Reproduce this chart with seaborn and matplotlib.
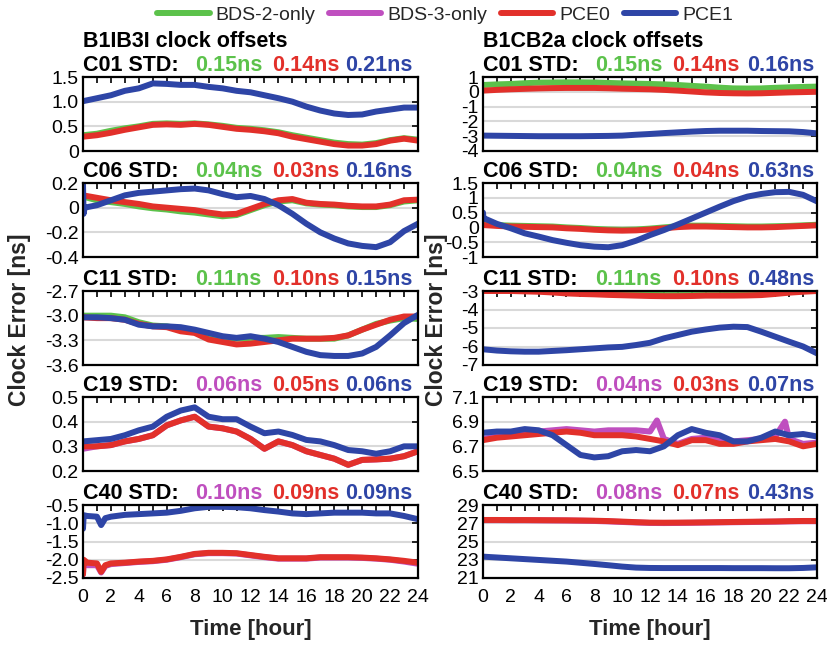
import matplotlib
matplotlib.use("Agg")
import matplotlib.pyplot as plt
import pandas as pd
import seaborn as sns
from matplotlib.lines import Line2D

# ---------------- data ----------------
hours = [0, 1, 2, 3, 4, 5, 6, 7, 8, 9, 10, 11, 12, 13, 14, 15, 16, 17, 18, 19, 20, 21, 22, 23, 24]
hours_spike = [0, 0.04, 0.12, 1, 2, 3, 4, 5, 6, 7, 8, 9, 10, 11, 12, 13, 14, 15, 16, 17, 18, 19, 20, 21, 22, 23, 24]
hours_c40 = [0, 0.05, 0.3, 1, 1.3, 1.6, 2, 3, 4, 5, 6, 7, 8, 9, 10, 11, 12, 13, 14, 15, 16, 17, 18, 19, 20, 21, 22, 23, 24]
hours_c19_b3 = [0, 1, 2, 3, 4, 5, 6, 7, 8, 9, 10, 11, 12, 12.5, 13, 14, 15, 16, 17, 18, 19, 20, 21, 21.7, 22, 23, 24]

series_names = ["BDS-2-only", "BDS-3-only", "PCE0", "PCE1"]
series_colors = ["#5CC24B", "#BF4FBF", "#E2302A", "#2E45A6"]

# B1IB3I (left column)
b1_c01_bds2 = [0.32, 0.35, 0.41, 0.46, 0.50, 0.55, 0.56, 0.55, 0.56, 0.54, 0.51, 0.47, 0.45, 0.42, 0.38, 0.32, 0.27, 0.22, 0.17, 0.14, 0.13, 0.16, 0.22, 0.26, 0.23]
b1_c01_pce0 = [0.29, 0.32, 0.37, 0.43, 0.48, 0.53, 0.54, 0.53, 0.55, 0.53, 0.49, 0.45, 0.43, 0.40, 0.36, 0.29, 0.24, 0.19, 0.14, 0.11, 0.11, 0.14, 0.21, 0.25, 0.21]
b1_c01_pce1 = [1.01, 1.07, 1.13, 1.22, 1.27, 1.37, 1.36, 1.34, 1.34, 1.30, 1.27, 1.22, 1.19, 1.13, 1.07, 1.00, 0.90, 0.82, 0.76, 0.73, 0.74, 0.80, 0.84, 0.88, 0.88]

b1_c06_bds2 = [0.09, 0.06, 0.045, 0.03, 0.01, -0.005, -0.015, -0.03, -0.04, -0.055, -0.07, -0.06, -0.02, 0.02, 0.05, 0.06, 0.035, 0.025, 0.02, 0.01, 0.005, 0.005, 0.02, 0.05, 0.06]
b1_c06_pce0 = [0.10, 0.08, 0.06, 0.045, 0.03, 0.01, 0.0, -0.01, -0.02, -0.04, -0.055, -0.05, -0.01, 0.03, 0.06, 0.07, 0.04, 0.03, 0.025, 0.015, 0.01, 0.01, 0.025, 0.06, 0.065]
b1_c06_pce1 = [0.19, -0.05, 0.0, 0.02, 0.06, 0.10, 0.12, 0.13, 0.14, 0.15, 0.155, 0.14, 0.11, 0.085, 0.095, 0.07, 0.02, -0.05, -0.13, -0.20, -0.25, -0.29, -0.31, -0.32, -0.28, -0.19, -0.13]

b1_c11_bds2 = [-3.00, -3.00, -3.00, -3.02, -3.08, -3.12, -3.13, -3.16, -3.20, -3.25, -3.27, -3.28, -3.27, -3.27, -3.26, -3.27, -3.28, -3.28, -3.28, -3.24, -3.17, -3.10, -3.06, -3.03, -3.04]
b1_c11_pce0 = [-3.02, -3.03, -3.03, -3.05, -3.10, -3.13, -3.14, -3.19, -3.21, -3.29, -3.32, -3.35, -3.34, -3.32, -3.30, -3.28, -3.28, -3.28, -3.27, -3.24, -3.17, -3.11, -3.05, -3.01, -3.01]
b1_c11_pce1 = [-3.02, -3.02, -3.03, -3.05, -3.11, -3.13, -3.13, -3.14, -3.17, -3.21, -3.25, -3.27, -3.25, -3.28, -3.32, -3.38, -3.44, -3.48, -3.49, -3.49, -3.46, -3.38, -3.24, -3.09, -2.99]

b1_c19_bds3 = [0.29, 0.30, 0.305, 0.32, 0.33, 0.345, 0.385, 0.405, 0.42, 0.38, 0.373, 0.36, 0.33, 0.29, 0.32, 0.305, 0.28, 0.265, 0.25, 0.225, 0.245, 0.247, 0.25, 0.26, 0.28]
b1_c19_pce0 = [0.30, 0.30, 0.305, 0.32, 0.33, 0.345, 0.385, 0.405, 0.42, 0.38, 0.373, 0.36, 0.33, 0.29, 0.32, 0.305, 0.28, 0.265, 0.25, 0.225, 0.245, 0.247, 0.25, 0.26, 0.28]
b1_c19_pce1 = [0.32, 0.325, 0.33, 0.345, 0.365, 0.38, 0.42, 0.445, 0.458, 0.42, 0.41, 0.41, 0.38, 0.353, 0.36, 0.346, 0.326, 0.32, 0.305, 0.285, 0.28, 0.27, 0.28, 0.30, 0.30]

b1_c40_bds3 = [-2.40, -2.05, -2.15, -2.15, -2.35, -2.17, -2.12, -2.09, -2.06, -2.04, -2.00, -1.93, -1.85, -1.82, -1.82, -1.83, -1.88, -1.93, -1.97, -1.97, -1.97, -1.94, -1.94, -1.94, -1.95, -1.97, -2.00, -2.05, -2.11]
b1_c40_pce0 = [-2.40, -2.00, -2.08, -2.10, -2.33, -2.15, -2.10, -2.08, -2.05, -2.03, -1.99, -1.92, -1.84, -1.81, -1.81, -1.82, -1.87, -1.92, -1.96, -1.96, -1.96, -1.93, -1.93, -1.93, -1.94, -1.96, -1.99, -2.03, -2.08]
b1_c40_pce1 = [-1.15, -0.78, -0.80, -0.82, -1.05, -0.86, -0.82, -0.77, -0.75, -0.73, -0.71, -0.66, -0.59, -0.55, -0.55, -0.56, -0.59, -0.64, -0.68, -0.73, -0.75, -0.73, -0.71, -0.71, -0.71, -0.73, -0.73, -0.80, -0.89]

# B1CB2a (right column)
b2_c01_bds2 = [0.46, 0.50, 0.53, 0.58, 0.62, 0.63, 0.64, 0.64, 0.63, 0.60, 0.57, 0.55, 0.53, 0.50, 0.46, 0.40, 0.35, 0.28, 0.23, 0.22, 0.23, 0.27, 0.30, 0.33, 0.35]
b2_c01_pce0 = [0.08, 0.13, 0.17, 0.20, 0.23, 0.25, 0.26, 0.26, 0.26, 0.24, 0.21, 0.19, 0.17, 0.13, 0.08, 0.02, -0.04, -0.08, -0.10, -0.11, -0.10, -0.07, -0.04, -0.02, 0.0]
b2_c01_pce1 = [-2.96, -2.97, -2.98, -2.99, -3.00, -3.00, -3.00, -3.00, -2.99, -2.98, -2.96, -2.90, -2.85, -2.79, -2.74, -2.69, -2.65, -2.63, -2.63, -2.63, -2.65, -2.66, -2.67, -2.72, -2.81]

b2_c06_bds2 = [0.10, 0.08, 0.06, 0.05, 0.04, 0.03, 0.0, -0.02, -0.05, -0.07, -0.08, -0.07, -0.04, 0.0, 0.04, 0.06, 0.06, 0.05, 0.04, 0.03, 0.03, 0.04, 0.05, 0.07, 0.09]
b2_c06_pce0 = [0.08, 0.05, 0.03, 0.02, 0.01, 0.0, -0.03, -0.05, -0.08, -0.10, -0.11, -0.10, -0.07, -0.03, 0.01, 0.03, 0.03, 0.02, 0.01, 0.0, 0.0, 0.01, 0.03, 0.05, 0.07]
b2_c06_pce1 = [0.50, 0.28, 0.30, 0.12, -0.03, -0.20, -0.31, -0.43, -0.52, -0.60, -0.65, -0.67, -0.60, -0.45, -0.26, -0.09, 0.10, 0.30, 0.50, 0.70, 0.89, 1.04, 1.13, 1.19, 1.20, 1.10, 0.88]

b2_c11_bds2 = [-2.92, -2.92, -2.93, -2.95, -2.97, -3.00, -3.04, -3.08, -3.11, -3.14, -3.17, -3.19, -3.21, -3.22, -3.22, -3.22, -3.22, -3.22, -3.21, -3.20, -3.17, -3.12, -3.06, -3.00, -2.95]
b2_c11_pce0 = [-3.00, -3.00, -3.00, -3.02, -3.04, -3.08, -3.13, -3.16, -3.18, -3.21, -3.23, -3.25, -3.27, -3.28, -3.28, -3.27, -3.25, -3.25, -3.25, -3.24, -3.22, -3.16, -3.09, -3.04, -3.00]
b2_c11_pce1 = [-6.15, -6.22, -6.26, -6.28, -6.28, -6.24, -6.20, -6.15, -6.10, -6.05, -6.02, -5.92, -5.80, -5.56, -5.38, -5.20, -5.08, -4.98, -4.93, -4.95, -5.20, -5.47, -5.74, -6.00, -6.37]

b2_c19_bds3 = [6.76, 6.78, 6.79, 6.80, 6.82, 6.83, 6.84, 6.83, 6.82, 6.83, 6.83, 6.83, 6.82, 6.91, 6.76, 6.72, 6.76, 6.77, 6.76, 6.74, 6.75, 6.76, 6.78, 6.90, 6.76, 6.72, 6.73]
b2_c19_pce0 = [6.75, 6.77, 6.78, 6.79, 6.80, 6.81, 6.82, 6.81, 6.79, 6.79, 6.79, 6.78, 6.76, 6.74, 6.71, 6.75, 6.75, 6.72, 6.72, 6.74, 6.75, 6.76, 6.74, 6.70, 6.72]
b2_c19_pce1 = [6.81, 6.82, 6.82, 6.84, 6.83, 6.79, 6.71, 6.63, 6.61, 6.62, 6.66, 6.67, 6.66, 6.70, 6.79, 6.84, 6.81, 6.79, 6.74, 6.74, 6.77, 6.82, 6.79, 6.80, 6.78]

b2_c40_bds3 = [27.34, 27.34, 27.33, 27.33, 27.32, 27.31, 27.30, 27.28, 27.25, 27.20, 27.14, 27.08, 27.03, 27.02, 27.03, 27.05, 27.07, 27.09, 27.11, 27.13, 27.15, 27.17, 27.20, 27.22, 27.22]
b2_c40_pce0 = [27.36, 27.36, 27.35, 27.35, 27.34, 27.33, 27.32, 27.30, 27.28, 27.24, 27.18, 27.12, 27.07, 27.06, 27.07, 27.08, 27.10, 27.12, 27.14, 27.16, 27.18, 27.20, 27.23, 27.25, 27.25]
b2_c40_pce1 = [23.34, 23.25, 23.16, 23.07, 22.98, 22.89, 22.80, 22.67, 22.54, 22.40, 22.25, 22.14, 22.10, 22.09, 22.09, 22.09, 22.09, 22.09, 22.08, 22.08, 22.08, 22.07, 22.07, 22.10, 22.17]

# STD values shown in the panel titles (first value: BDS-2-only or BDS-3-only)
b1_std = [("C01", 0, [0.15, 0.14, 0.21]), ("C06", 0, [0.04, 0.03, 0.16]), ("C11", 0, [0.11, 0.10, 0.15]),
          ("C19", 1, [0.06, 0.05, 0.06]), ("C40", 1, [0.10, 0.09, 0.09])]
b2_std = [("C01", 0, [0.15, 0.14, 0.16]), ("C06", 0, [0.04, 0.04, 0.63]), ("C11", 0, [0.11, 0.10, 0.48]),
          ("C19", 1, [0.04, 0.03, 0.07]), ("C40", 1, [0.08, 0.07, 0.43])]

# y ticks
b1_yticks = [[0, 0.5, 1.0, 1.5], [-0.4, -0.2, 0, 0.2], [-3.6, -3.3, -3.0, -2.7], [0.2, 0.3, 0.4, 0.5], [-2.5, -2.0, -1.5, -1.0, -0.5]]
b1_ylabels = [["0", "0.5", "1.0", "1.5"], ["-0.4", "-0.2", "0", "0.2"], ["-3.6", "-3.3", "-3.0", "-2.7"], ["0.2", "0.3", "0.4", "0.5"], ["-2.5", "-2.0", "-1.5", "-1.0", "-0.5"]]
b2_yticks = [[-4, -3, -2, -1, 0, 1], [-1, -0.5, 0, 0.5, 1, 1.5], [-7, -6, -5, -4, -3], [6.5, 6.7, 6.9, 7.1], [21, 23, 25, 27, 29]]
b2_ylabels = [["-4", "-3", "-2", "-1", "0", "1"], ["-1", "-0.5", "0", "0.5", "1", "1.5"], ["-7", "-6", "-5", "-4", "-3"], ["6.5", "6.7", "6.9", "7.1"], ["21", "23", "25", "27", "29"]]
xtick_labels = ["0", "", "2", "", "4", "", "6", "", "8", "", "10", "", "12", "", "14", "", "16", "", "18", "", "20", "", "22", "", "24"]

b1_panels = [
    [("BDS-2-only", hours, b1_c01_bds2), ("PCE0", hours, b1_c01_pce0), ("PCE1", hours, b1_c01_pce1)],
    [("BDS-2-only", hours, b1_c06_bds2), ("PCE0", hours, b1_c06_pce0), ("PCE1", hours_spike, b1_c06_pce1)],
    [("BDS-2-only", hours, b1_c11_bds2), ("PCE0", hours, b1_c11_pce0), ("PCE1", hours, b1_c11_pce1)],
    [("BDS-3-only", hours, b1_c19_bds3), ("PCE0", hours, b1_c19_pce0), ("PCE1", hours, b1_c19_pce1)],
    [("BDS-3-only", hours_c40, b1_c40_bds3), ("PCE0", hours_c40, b1_c40_pce0), ("PCE1", hours_c40, b1_c40_pce1)],
]
b2_panels = [
    [("BDS-2-only", hours, b2_c01_bds2), ("PCE0", hours, b2_c01_pce0), ("PCE1", hours, b2_c01_pce1)],
    [("BDS-2-only", hours, b2_c06_bds2), ("PCE0", hours, b2_c06_pce0), ("PCE1", hours_spike, b2_c06_pce1)],
    [("BDS-2-only", hours, b2_c11_bds2), ("PCE0", hours, b2_c11_pce0), ("PCE1", hours, b2_c11_pce1)],
    [("BDS-3-only", hours_c19_b3, b2_c19_bds3), ("PCE0", hours, b2_c19_pce0), ("PCE1", hours, b2_c19_pce1)],
    [("BDS-3-only", hours, b2_c40_bds3), ("PCE0", hours, b2_c40_pce0), ("PCE1", hours, b2_c40_pce1)],
]

# ---------------- styling ----------------
sns.set_theme(style="white")
plt.rcParams["font.family"] = ["Liberation Sans", "DejaVu Sans"]
palette = dict(zip(series_names, series_colors))

W, H = 828, 648
fig = plt.figure(figsize=(W / 100, H / 100), dpi=100)

col_x = [(83, 418), (483, 817)]
row_y = [(77, 151), (183, 257), (291, 365), (397, 471), (505, 578)]
title_x = [[0.0, 0.334, 0.564, 0.782], [0.0, 0.335, 0.566, 0.79]]


def make_axes(x0, x1, y0, y1):
    return fig.add_axes([x0 / W, 1 - y1 / H, (x1 - x0) / W, (y1 - y0) / H])


columns = [(b1_panels, b1_std, b1_yticks, b1_ylabels, "B1IB3I clock offsets"),
           (b2_panels, b2_std, b2_yticks, b2_ylabels, "B1CB2a clock offsets")]

for ci, (panels, stds, yticks, ylabels, coltitle) in enumerate(columns):
    for ri, series in enumerate(panels):
        ax = make_axes(col_x[ci][0], col_x[ci][1], row_y[ri][0], row_y[ri][1])
        frames = [pd.DataFrame({"Time": t, "Error": v, "Series": name}) for name, t, v in series]
        df = pd.concat(frames, ignore_index=True)
        order = [s[0] for s in series]
        sns.lineplot(data=df, x="Time", y="Error", hue="Series", hue_order=order,
                     palette=palette, estimator=None, sort=False, linewidth=4.3,
                     legend=False, ax=ax)
        ax.set_xlabel("")
        ax.set_ylabel("")
        ax.set_xlim(0, 24)
        ax.set_ylim(yticks[ri][0], yticks[ri][-1])
        ax.set_yticks(yticks[ri])
        ax.set_yticklabels(ylabels[ri])
        ax.set_xticks(hours)
        if ri == len(panels) - 1:
            ax.set_xticklabels(xtick_labels)
        else:
            ax.set_xticklabels([""] * len(hours))
        ax.tick_params(axis="both", direction="in", length=4, width=1.2, top=True, right=True,
                       labelsize=14, colors="black")
        ax.tick_params(axis="y", pad=3)
        ax.tick_params(axis="x", pad=8)
        ax.yaxis.grid(True, color="#d9d9d9", linewidth=1.5)
        ax.xaxis.grid(False)
        ax.set_axisbelow(True)
        for sp in ax.spines.values():
            sp.set_color("black")
            sp.set_linewidth(1.6)

        prn, first_idx, vals = stds[ri]
        cols = [series_colors[first_idx], series_colors[2], series_colors[3]]
        pieces = [(prn + " STD:", "black")] + [(f"{v:.2f}ns", c) for v, c in zip(vals, cols)]
        for (txt, c), fx in zip(pieces, title_x[ci]):
            ax.annotate(txt, xy=(fx, 1), xycoords="axes fraction", xytext=(0, 4.5),
                        textcoords="offset points", ha="left", va="baseline",
                        fontsize=15.5, fontweight="bold", color=c)
        if ri == 0:
            ax.annotate(coltitle, xy=(0, 1), xycoords="axes fraction", xytext=(0, 21.5),
                        textcoords="offset points", ha="left", va="baseline",
                        fontsize=15.5, fontweight="bold", color="black")

# axis labels
fig.text(20 / W, 1 - 320 / H, "Clock Error [ns]", rotation=90, ha="center", va="center",
         fontsize=16.5, fontweight="bold")
fig.text(437 / W, 1 - 320 / H, "Clock Error [ns]", rotation=90, ha="center", va="center",
         fontsize=16.5, fontweight="bold")
fig.text(251 / W, 1 - 630 / H, "Time [hour]", ha="center", va="center", fontsize=16, fontweight="bold")
fig.text(650 / W, 1 - 630 / H, "Time [hour]", ha="center", va="center", fontsize=16, fontweight="bold")

# legend
handles = [Line2D([0], [0], color=c, lw=4.3) for c in series_colors]
fig.legend(handles, series_names, loc="center", bbox_to_anchor=(445 / W, 1 - 15 / H), ncol=4,
           frameon=False, fontsize=14, handlelength=2.7, handletextpad=0.3, columnspacing=0.7,
           borderpad=0.1)

fig.savefig("out.png", dpi=100)
